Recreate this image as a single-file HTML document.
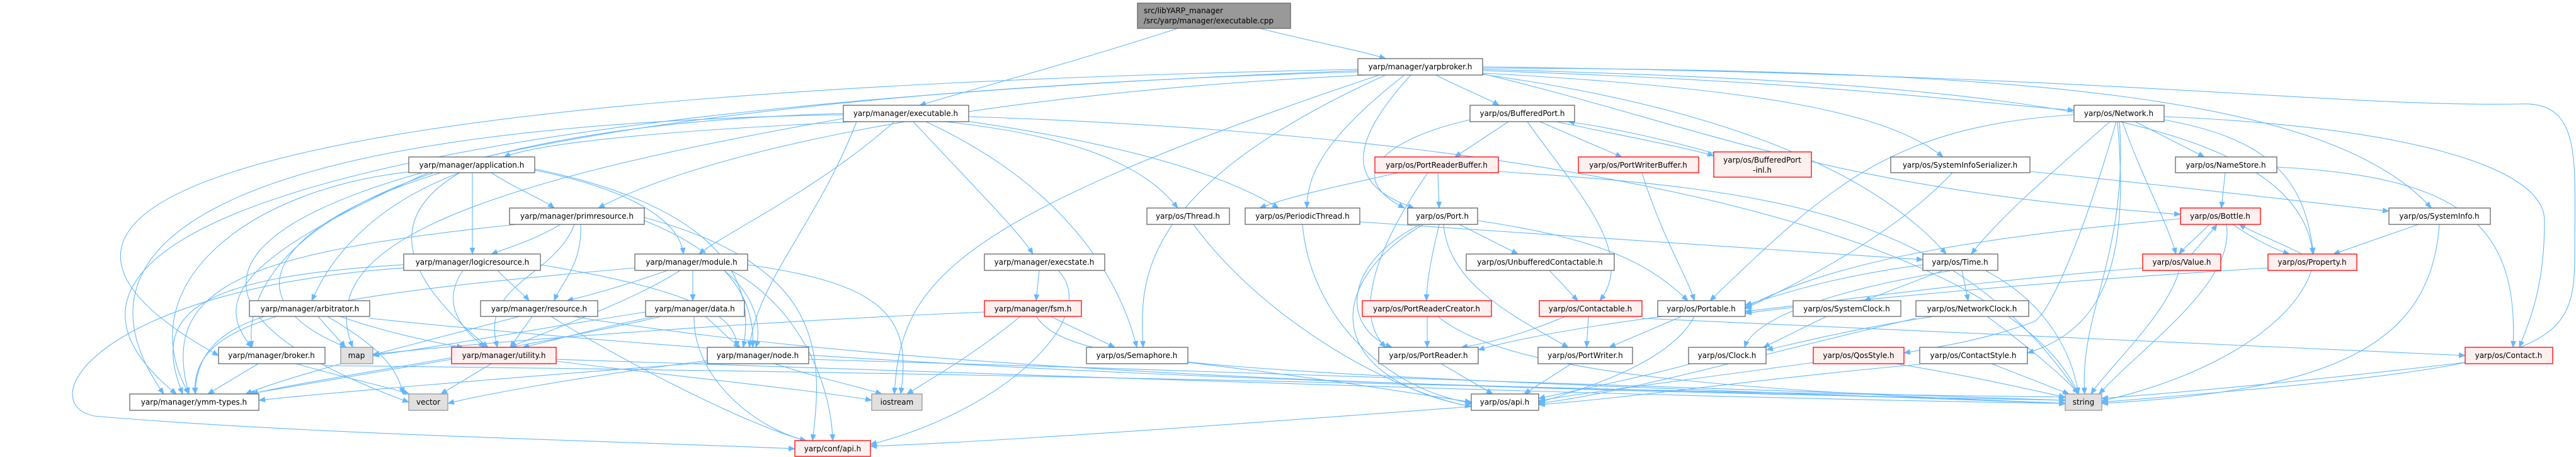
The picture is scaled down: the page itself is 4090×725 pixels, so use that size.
<!DOCTYPE html>
<html><head><meta charset="utf-8"><style>
html,body{margin:0;padding:0;background:#fff;}
svg{display:block;}
text{font-family:"DejaVu Sans","Liberation Sans",sans-serif;font-size:12px;fill:#000;}
.e path{fill:none;stroke:#63b8ff;stroke-width:1.1;}
</style></head><body>
<svg width="4090" height="725" viewBox="0 0 4090 725" xmlns="http://www.w3.org/2000/svg">
<defs><marker id="a" markerWidth="11" markerHeight="9" refX="10" refY="4.5" orient="auto" markerUnits="userSpaceOnUse"><path d="M0,0 L11,4.5 L0,9 Z" fill="#63b8ff"/></marker></defs>
<g class="e" marker-end="url(#a)">
<path marker-end="url(#a)" d="M1870 45 C1700 100 1550 140 1460 167"/>
<path marker-end="url(#a)" d="M2000 45 C2100 70 2160 80 2200 93"/>
<path marker-end="url(#a)" d="M1360 193 C1000 210 850 230 800 249"/>
<path marker-end="url(#a)" d="M1420 193 C1300 300 1150 370 1110 403"/>
<path marker-end="url(#a)" d="M1450 193 C1550 300 1620 370 1640 403"/>
<path marker-end="url(#a)" d="M1470 193 C1700 300 1780 450 1805 551"/>
<path marker-end="url(#a)" d="M1500 193 C1750 220 1830 280 1870 330"/>
<path marker-end="url(#a)" d="M1520 190 C1800 230 1950 280 2030 330"/>
<path marker-end="url(#a)" d="M1339 180 C600 200 380 400 400 551"/>
<path marker-end="url(#a)" d="M1339 182 C300 200 100 400 260 625"/>
<path marker-end="url(#a)" d="M1538 185 C2600 220 3200 400 3300 625"/>
<path marker-end="url(#a)" d="M1339 188 C700 300 500 400 560 551"/>
<path marker-end="url(#a)" d="M1360 193 C1300 350 1200 450 1190 551"/>
<path marker-end="url(#a)" d="M2156 110 C200 150 -40 350 347 564"/>
<path marker-end="url(#a)" d="M2170 119 C1500 150 1100 250 950 330"/>
<path marker-end="url(#a)" d="M2156 112 C400 180 0 400 280 625"/>
<path marker-end="url(#a)" d="M2156 114 C600 160 0 400 649 638"/>
<path marker-end="url(#a)" d="M2190 119 C1500 350 1430 450 1420 625"/>
<path marker-end="url(#a)" d="M2200 119 C1800 300 1810 450 1815 551"/>
<path marker-end="url(#a)" d="M2230 119 C2100 220 2075 280 2075 330"/>
<path marker-end="url(#a)" d="M2240 119 C2120 250 2160 300 2245 330"/>
<path marker-end="url(#a)" d="M2280 119 C2320 140 2360 155 2380 167"/>
<path marker-end="url(#a)" d="M2354 112 C2900 130 3100 160 3293 175"/>
<path marker-end="url(#a)" d="M2354 118 C2800 180 3000 300 3090 403"/>
<path marker-end="url(#a)" d="M2354 116 C2800 140 3000 180 3085 249"/>
<path marker-end="url(#a)" d="M2354 108 C3200 110 3700 150 3860 330"/>
<path marker-end="url(#a)" d="M2354 110 C3100 130 3650 170 3672 403"/>
<path marker-end="url(#a)" d="M2354 106 C3400 120 3700 170 4000 165 C4100 160 4088 250 4088 400 C4088 560 4060 580 3337 638"/>
<path marker-end="url(#a)" d="M2354 117 C2700 200 2900 300 3462 340"/>
<path marker-end="url(#a)" d="M680 270 C400 290 200 450 300 625"/>
<path marker-end="url(#a)" d="M780 274 C820 300 860 315 880 330"/>
<path marker-end="url(#a)" d="M750 274 L750 403"/>
<path marker-end="url(#a)" d="M849 270 C1000 300 1080 350 1085 403"/>
<path marker-end="url(#a)" d="M730 274 C580 330 520 420 495 477"/>
<path marker-end="url(#a)" d="M730 274 C600 350 650 450 775 551"/>
<path marker-end="url(#a)" d="M700 274 C450 350 350 470 550 551"/>
<path marker-end="url(#a)" d="M680 274 C400 400 330 470 400 551"/>
<path marker-end="url(#a)" d="M849 268 C1150 330 1200 450 1180 551"/>
<path marker-end="url(#a)" d="M890 356 C850 380 810 392 780 403"/>
<path marker-end="url(#a)" d="M922 356 C925 420 890 450 880 477"/>
<path marker-end="url(#a)" d="M912 356 C880 440 760 450 790 551"/>
<path marker-end="url(#a)" d="M820 356 C400 400 250 450 300 625"/>
<path marker-end="url(#a)" d="M1023 350 C1150 400 1200 470 1195 551"/>
<path marker-end="url(#a)" d="M1023 345 C1300 420 1310 550 1290 699"/>
<path marker-end="url(#a)" d="M641 420 C300 440 240 500 290 625"/>
<path marker-end="url(#a)" d="M790 429 C815 455 830 465 840 477"/>
<path marker-end="url(#a)" d="M735 429 C700 480 730 520 770 551"/>
<path marker-end="url(#a)" d="M858 420 C1100 460 1170 500 1170 551"/>
<path marker-end="url(#a)" d="M641 425 C150 460 50 640 150 660 C500 690 1000 700 1262 712"/>
<path marker-end="url(#a)" d="M1008 425 C500 470 300 500 310 625"/>
<path marker-end="url(#a)" d="M1060 429 C1000 450 950 465 900 477"/>
<path marker-end="url(#a)" d="M1080 429 C1000 480 880 520 810 551"/>
<path marker-end="url(#a)" d="M1100 429 L1100 477"/>
<path marker-end="url(#a)" d="M1150 429 C1200 470 1210 520 1200 551"/>
<path marker-end="url(#a)" d="M1160 429 C1260 480 1320 600 1322 699"/>
<path marker-end="url(#a)" d="M1187 420 C1400 450 1450 500 1430 625"/>
<path marker-end="url(#a)" d="M420 502 C330 530 310 580 310 625"/>
<path marker-end="url(#a)" d="M505 502 C520 520 540 540 548 551"/>
<path marker-end="url(#a)" d="M520 502 C600 550 630 580 640 625"/>
<path marker-end="url(#a)" d="M540 502 C620 530 700 545 735 551"/>
<path marker-end="url(#a)" d="M587 505 C1500 600 2500 620 3280 630"/>
<path marker-end="url(#a)" d="M825 502 C600 560 450 600 390 625"/>
<path marker-end="url(#a)" d="M845 502 L810 551"/>
<path marker-end="url(#a)" d="M875 502 C1000 580 1200 680 1280 699"/>
<path marker-end="url(#a)" d="M910 502 C1500 600 2500 620 3280 635"/>
<path marker-end="url(#a)" d="M1050 502 C800 560 500 600 400 625"/>
<path marker-end="url(#a)" d="M1040 502 C950 520 880 540 830 551"/>
<path marker-end="url(#a)" d="M1120 502 C1140 520 1160 540 1175 551"/>
<path marker-end="url(#a)" d="M1102 502 C1100 600 1200 680 1280 699"/>
<path marker-end="url(#a)" d="M1025 495 C800 530 700 550 592 564"/>
<path marker-end="url(#a)" d="M717 570 C600 590 450 615 395 625"/>
<path marker-end="url(#a)" d="M780 577 L700 625"/>
<path marker-end="url(#a)" d="M883 570 C1800 600 2600 630 3280 640"/>
<path marker-end="url(#a)" d="M883 573 C1100 600 1300 620 1384 635"/>
<path marker-end="url(#a)" d="M1123 575 C800 600 500 625 411 635"/>
<path marker-end="url(#a)" d="M1230 577 C1300 600 1370 615 1400 625"/>
<path marker-end="url(#a)" d="M1123 572 C900 600 750 630 711 640"/>
<path marker-end="url(#a)" d="M1284 570 C2000 590 2800 620 3279 635"/>
<path marker-end="url(#a)" d="M410 577 L330 625"/>
<path marker-end="url(#a)" d="M470 577 C550 600 620 615 650 625"/>
<path marker-end="url(#a)" d="M516 580 C1500 590 2800 620 3279 640"/>
<path marker-end="url(#a)" d="M1650 429 L1645 477"/>
<path marker-end="url(#a)" d="M1680 429 C1750 500 1600 650 1382 705"/>
<path marker-end="url(#a)" d="M1620 502 C1550 560 1480 600 1440 625"/>
<path marker-end="url(#a)" d="M1668 502 L1770 551"/>
<path marker-end="url(#a)" d="M1645 502 C1700 580 1900 590 3280 640"/>
<path marker-end="url(#a)" d="M1563 495 C1200 510 800 540 592 562"/>
<path marker-end="url(#a)" d="M1886 575 C2100 600 2250 625 2336 638"/>
<path marker-end="url(#a)" d="M1895 356 C2000 500 2200 620 2336 645"/>
<path marker-end="url(#a)" d="M2068 356 C2080 500 2200 620 2340 640"/>
<path marker-end="url(#a)" d="M2159 352 C2600 380 2900 400 3053 412"/>
<path marker-end="url(#a)" d="M2395 193 L2310 249"/>
<path marker-end="url(#a)" d="M2445 193 L2575 249"/>
<path marker-end="url(#a)" d="M2470 193 C2600 220 2680 235 2721 247"/>
<path marker-end="url(#a)" d="M2334 190 C2200 220 2130 280 2230 330"/>
<path marker-end="url(#a)" d="M2425 193 C2500 300 2600 400 2540 477"/>
<path marker-end="url(#a)" d="M2721 243 C2620 215 2540 200 2490 193"/>
<path marker-end="url(#a)" d="M2283 274 L2285 330"/>
<path marker-end="url(#a)" d="M2267 274 C2180 400 2150 500 2200 551"/>
<path marker-end="url(#a)" d="M2379 272 C2800 300 3100 330 3300 625"/>
<path marker-end="url(#a)" d="M2220 274 C2150 290 2050 310 2000 330"/>
<path marker-end="url(#a)" d="M2607 274 C2640 380 2680 440 2690 477"/>
<path marker-end="url(#a)" d="M2317 356 L2410 403"/>
<path marker-end="url(#a)" d="M2285 356 C2270 420 2265 450 2265 477"/>
<path marker-end="url(#a)" d="M2255 356 C2130 420 2130 520 2210 551"/>
<path marker-end="url(#a)" d="M2292 356 C2300 450 2400 500 2490 551"/>
<path marker-end="url(#a)" d="M2346 350 C2550 380 2620 420 2680 477"/>
<path marker-end="url(#a)" d="M2260 356 C2100 450 2100 600 2336 645"/>
<path marker-end="url(#a)" d="M2460 429 L2505 477"/>
<path marker-end="url(#a)" d="M2266 502 L2266 551"/>
<path marker-end="url(#a)" d="M2283 502 C2400 600 2800 620 3279 640"/>
<path marker-end="url(#a)" d="M2485 502 C2420 530 2360 545 2320 551"/>
<path marker-end="url(#a)" d="M2522 502 L2519 551"/>
<path marker-end="url(#a)" d="M2607 505 C3200 530 3600 550 3914 564"/>
<path marker-end="url(#a)" d="M2640 502 C2500 520 2400 540 2347 555"/>
<path marker-end="url(#a)" d="M2670 502 L2555 551"/>
<path marker-end="url(#a)" d="M2690 502 C2650 580 2500 620 2440 640"/>
<path marker-end="url(#a)" d="M2288 577 L2370 625"/>
<path marker-end="url(#a)" d="M2495 577 L2420 625"/>
<path marker-end="url(#a)" d="M2685 577 C2600 600 2500 620 2443 632"/>
<path marker-end="url(#a)" d="M2880 575 C2700 600 2500 625 2443 636"/>
<path marker-end="url(#a)" d="M3010 577 C3150 600 3230 620 3279 630"/>
<path marker-end="url(#a)" d="M2900 502 L2800 551"/>
<path marker-end="url(#a)" d="M3070 502 C2950 520 2850 545 2805 555"/>
<path marker-end="url(#a)" d="M3155 502 C3220 550 3280 600 3300 625"/>
<path marker-end="url(#a)" d="M3042 505 C2800 560 2600 620 2443 640"/>
<path marker-end="url(#a)" d="M3162 577 L3285 625"/>
<path marker-end="url(#a)" d="M3048 578 C2800 600 2600 630 2443 642"/>
<path marker-end="url(#a)" d="M3914 575 C3700 600 3500 620 3337 632"/>
<path marker-end="url(#a)" d="M3053 420 C2900 440 2820 470 2771 484"/>
<path marker-end="url(#a)" d="M3085 429 L2960 477"/>
<path marker-end="url(#a)" d="M3115 429 L3125 477"/>
<path marker-end="url(#a)" d="M3100 429 C2850 470 2780 520 2770 551"/>
<path marker-end="url(#a)" d="M3152 429 C3250 480 3290 560 3300 625"/>
<path marker-end="url(#a)" d="M3350 193 C3250 280 3170 350 3130 403"/>
<path marker-end="url(#a)" d="M3293 182 C3000 200 2900 300 2715 477"/>
<path marker-end="url(#a)" d="M3390 193 L3500 249"/>
<path marker-end="url(#a)" d="M3370 193 C3400 280 3440 350 3455 403"/>
<path marker-end="url(#a)" d="M3436 190 C3600 220 3660 280 3673 403"/>
<path marker-end="url(#a)" d="M3436 185 C3800 200 4040 260 4040 350 C4040 450 4020 500 4000 551"/>
<path marker-end="url(#a)" d="M3365 193 C3380 400 3300 500 3310 625"/>
<path marker-end="url(#a)" d="M3360 193 C3300 400 3250 500 3230 510 C3150 540 3080 550 3023 560"/>
<path marker-end="url(#a)" d="M3362 193 C3380 400 3350 520 3219 560"/>
<path marker-end="url(#a)" d="M3223 272 C3500 300 3700 325 3793 335"/>
<path marker-end="url(#a)" d="M3100 274 C3000 380 2850 450 2771 490"/>
<path marker-end="url(#a)" d="M3533 274 L3527 330"/>
<path marker-end="url(#a)" d="M3615 265 C3900 280 4000 350 3990 551"/>
<path marker-end="url(#a)" d="M3508 356 C3490 375 3470 390 3460 403"/>
<path marker-end="url(#a)" d="M3545 356 C3580 380 3610 395 3635 403"/>
<path marker-end="url(#a)" d="M3462 347 C3100 380 2900 420 2771 488"/>
<path marker-end="url(#a)" d="M3535 356 C3550 450 3400 550 3333 625"/>
<path marker-end="url(#a)" d="M3480 403 C3495 385 3510 370 3520 356"/>
<path marker-end="url(#a)" d="M3402 425 C3100 450 2900 480 2771 494"/>
<path marker-end="url(#a)" d="M3460 429 C3440 500 3350 580 3320 625"/>
<path marker-end="url(#a)" d="M3655 403 C3620 385 3580 370 3555 356"/>
<path marker-end="url(#a)" d="M3601 425 C3200 450 2900 480 2771 497"/>
<path marker-end="url(#a)" d="M3670 429 C3640 520 3500 600 3337 636"/>
<path marker-end="url(#a)" d="M3840 356 L3705 403"/>
<path marker-end="url(#a)" d="M3873 356 C3860 550 3700 620 3337 640"/>
<path marker-end="url(#a)" d="M2336 645 C2000 670 1600 700 1382 708"/>
</g>
<g stroke-width="1.3">
<rect x="1806" y="5" width="243" height="40" fill="#999" stroke="#666"/>
<text x="1816" y="21">src/libYARP_manager</text><text x="1816" y="37">/src/yarp/manager/executable.cpp</text>
<!-- white nodes -->
<g fill="#fff" stroke="#666">
<rect x="1339" y="167" width="199" height="26"/>
<rect x="2156" y="93" width="198" height="26"/>
<rect x="649" y="249" width="200" height="25"/>
<rect x="809" y="330" width="214" height="26"/>
<rect x="641" y="403" width="217" height="26"/>
<rect x="1008" y="403" width="179" height="26"/>
<rect x="396" y="477" width="191" height="25"/>
<rect x="763" y="477" width="186" height="25"/>
<rect x="1025" y="477" width="157" height="25"/>
<rect x="347" y="551" width="169" height="26"/>
<rect x="1123" y="551" width="161" height="26"/>
<rect x="206" y="625" width="205" height="26"/>
<rect x="1563" y="403" width="191" height="26"/>
<rect x="1725" y="551" width="161" height="26"/>
<rect x="1821" y="330" width="131" height="26"/>
<rect x="1977" y="330" width="182" height="26"/>
<rect x="2334" y="167" width="166" height="26"/>
<rect x="2235" y="330" width="111" height="26"/>
<rect x="2328" y="403" width="235" height="26"/>
<rect x="2632" y="477" width="139" height="25"/>
<rect x="2847" y="477" width="171" height="25"/>
<rect x="2189" y="551" width="158" height="26"/>
<rect x="2442" y="551" width="150" height="26"/>
<rect x="2681" y="551" width="123" height="26"/>
<rect x="2336" y="625" width="107" height="26"/>
<rect x="3293" y="167" width="143" height="26"/>
<rect x="3002" y="249" width="221" height="25"/>
<rect x="3454" y="249" width="161" height="25"/>
<rect x="3793" y="330" width="161" height="26"/>
<rect x="3053" y="403" width="119" height="26"/>
<rect x="3042" y="477" width="179" height="25"/>
<rect x="3048" y="551" width="171" height="26"/>
</g>
<g fill="#fff0f0" stroke="#f00">
<rect x="717" y="551" width="166" height="26"/>
<rect x="1262" y="699" width="120" height="25"/>
<rect x="1563" y="477" width="154" height="25"/>
<rect x="2183" y="249" width="196" height="25"/>
<rect x="2506" y="249" width="191" height="25"/>
<rect x="2721" y="241" width="155" height="40"/>
<rect x="2163" y="477" width="205" height="25"/>
<rect x="2444" y="477" width="163" height="25"/>
<rect x="2879" y="551" width="144" height="26"/>
<rect x="3462" y="330" width="127" height="26"/>
<rect x="3402" y="403" width="124" height="26"/>
<rect x="3601" y="403" width="141" height="26"/>
<rect x="3914" y="551" width="139" height="26"/>
</g>
<g fill="#e0e0e0" stroke="#999">
<rect x="541" y="551" width="51" height="26"/>
<rect x="649" y="625" width="62" height="26"/>
<rect x="1384" y="625" width="80" height="26"/>
<rect x="3279" y="625" width="58" height="26"/>
</g>
</g>
<g text-anchor="middle">
<text x="1438" y="184">yarp/manager/executable.h</text>
<text x="2255" y="110">yarp/manager/yarpbroker.h</text>
<text x="749" y="266">yarp/manager/application.h</text>
<text x="916" y="347">yarp/manager/primresource.h</text>
<text x="750" y="420">yarp/manager/logicresource.h</text>
<text x="1098" y="420">yarp/manager/module.h</text>
<text x="492" y="494">yarp/manager/arbitrator.h</text>
<text x="856" y="494">yarp/manager/resource.h</text>
<text x="1103" y="494">yarp/manager/data.h</text>
<text x="431" y="568">yarp/manager/broker.h</text>
<text x="566" y="568">map</text>
<text x="800" y="568">yarp/manager/utility.h</text>
<text x="1203" y="568">yarp/manager/node.h</text>
<text x="308" y="642">yarp/manager/ymm-types.h</text>
<text x="680" y="642">vector</text>
<text x="1424" y="642">iostream</text>
<text x="1322" y="716">yarp/conf/api.h</text>
<text x="1658" y="420">yarp/manager/execstate.h</text>
<text x="1640" y="494">yarp/manager/fsm.h</text>
<text x="1805" y="568">yarp/os/Semaphore.h</text>
<text x="1886" y="347">yarp/os/Thread.h</text>
<text x="2068" y="347">yarp/os/PeriodicThread.h</text>
<text x="2417" y="184">yarp/os/BufferedPort.h</text>
<text x="2281" y="266">yarp/os/PortReaderBuffer.h</text>
<text x="2601" y="266">yarp/os/PortWriterBuffer.h</text>
<text x="2798" y="258">yarp/os/BufferedPort</text>
<text x="2798" y="274">-inl.h</text>
<text x="2290" y="347">yarp/os/Port.h</text>
<text x="2445" y="420">yarp/os/UnbufferedContactable.h</text>
<text x="2265" y="494">yarp/os/PortReaderCreator.h</text>
<text x="2525" y="494">yarp/os/Contactable.h</text>
<text x="2701" y="494">yarp/os/Portable.h</text>
<text x="2932" y="494">yarp/os/SystemClock.h</text>
<text x="2268" y="568">yarp/os/PortReader.h</text>
<text x="2517" y="568">yarp/os/PortWriter.h</text>
<text x="2742" y="568">yarp/os/Clock.h</text>
<text x="2951" y="568">yarp/os/QosStyle.h</text>
<text x="2389" y="642">yarp/os/api.h</text>
<text x="3364" y="184">yarp/os/Network.h</text>
<text x="3112" y="266">yarp/os/SystemInfoSerializer.h</text>
<text x="3534" y="266">yarp/os/NameStore.h</text>
<text x="3525" y="347">yarp/os/Bottle.h</text>
<text x="3873" y="347">yarp/os/SystemInfo.h</text>
<text x="3112" y="420">yarp/os/Time.h</text>
<text x="3464" y="420">yarp/os/Value.h</text>
<text x="3671" y="420">yarp/os/Property.h</text>
<text x="3131" y="494">yarp/os/NetworkClock.h</text>
<text x="3133" y="568">yarp/os/ContactStyle.h</text>
<text x="3983" y="568">yarp/os/Contact.h</text>
<text x="3308" y="642">string</text>
</g>
</svg>
</body></html>
